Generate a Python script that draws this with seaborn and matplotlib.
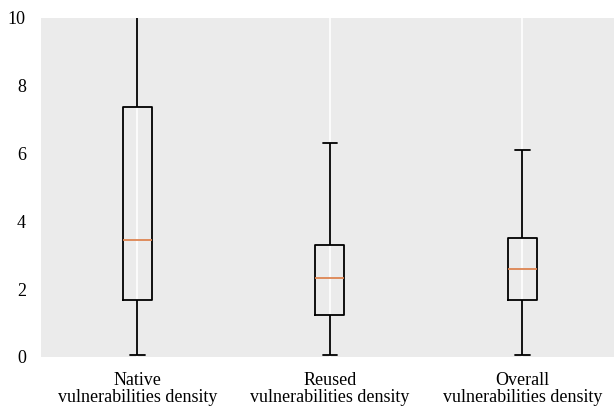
import pandas as pd
import matplotlib.pyplot as plt
import seaborn as sns

# five-number summaries (min, Q1, median, Q3, max)
categories = ['Native\nvulnerabilities density',
              'Reused\nvulnerabilities density',
              'Overall\nvulnerabilities density']
native = [0.05, 1.68, 3.44, 7.38, 11.0]
reused = [0.05, 1.24, 2.32, 3.29, 6.32]
overall = [0.05, 1.68, 2.59, 3.50, 6.09]
yticks = [0, 2, 4, 6, 8, 10]

df = pd.DataFrame({
    'group': [categories[0]] * 5 + [categories[1]] * 5 + [categories[2]] * 5,
    'value': native + reused + overall,
})

sns.set_style('darkgrid', {'axes.facecolor': '#EBEBEB', 'grid.color': 'white',
                           'text.color': 'black', 'xtick.color': 'black',
                           'ytick.color': 'black'})
plt.rcParams['font.family'] = ['Liberation Serif', 'DejaVu Serif']
plt.rcParams['font.size'] = 13

fig = plt.figure(figsize=(6.14, 4.07), dpi=100)
ax = fig.add_axes([0.067, 0.123, 0.9406, 0.833])
sns.boxplot(data=df, x='group', y='value', ax=ax, order=categories,
            fill=False, color='black', linewidth=1.3, width=0.15,
            showfliers=False, whis=1.5,
            medianprops=dict(color='#DD8452', linewidth=1.3))
ax.set_ylim(0, 10)
ax.set_xlim(-0.5, 2.5)
ax.set_yticks(yticks)
ax.yaxis.grid(False)
ax.xaxis.grid(True, color='white', linewidth=1.2)
ax.set_axisbelow(True)
ax.set_xlabel('')
ax.set_ylabel('')
ax.tick_params(axis='y', labelsize=13, length=0, pad=11)
ax.tick_params(axis='x', labelsize=13, length=0, pad=11)
for lbl in ax.get_xticklabels():
    lbl.set_linespacing(0.95)
for s in ax.spines.values():
    s.set_visible(False)

fig.savefig('out.png', dpi=100)
